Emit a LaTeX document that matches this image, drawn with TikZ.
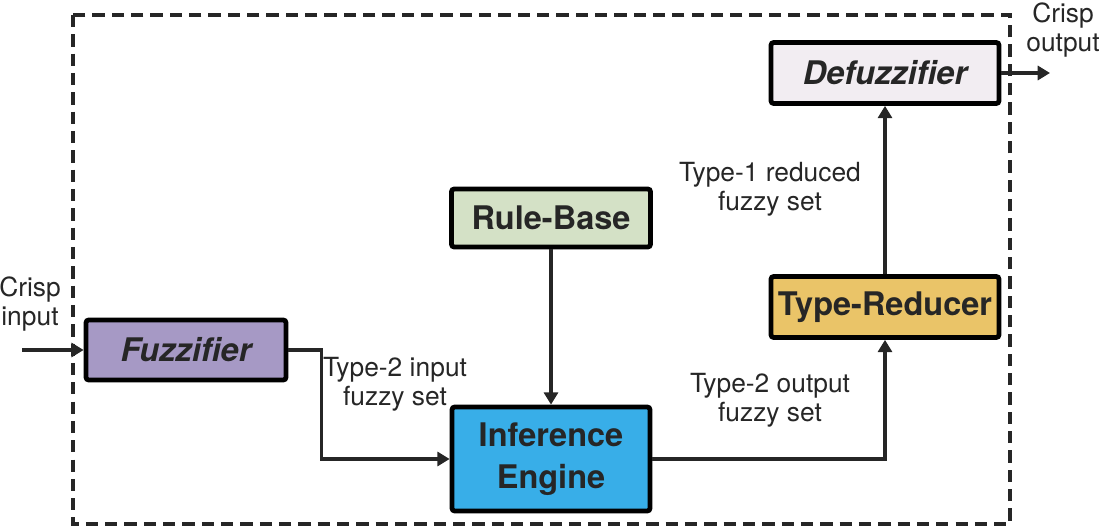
\documentclass[tikz,border=0pt]{standalone}
\usepackage{fontspec}
\setmainfont{TeX Gyre Heros}
\usepackage{xcolor}
\usetikzlibrary{arrows.meta, positioning, calc}

\definecolor{fuzzcol}{RGB}{166,153,197}
\definecolor{rulecol}{RGB}{212,225,198}
\definecolor{infcol}{RGB}{56,174,232}
\definecolor{redcol}{RGB}{234,196,104}
\definecolor{defcol}{RGB}{242,237,242}

\begin{document}
\begin{tikzpicture}[x=0.02cm,y=-0.02cm,
  block/.style={draw, line width=2.7pt, rounded corners=1.5pt, inner sep=0pt,
    font=\fontsize{18.5}{22}\selectfont\bfseries, text=black!85, align=center},
  lbl/.style={font=\fontsize{15}{16.5}\selectfont, align=center, text=black!85},
  conn/.style={line width=2pt, black!85, -{Triangle[length=7pt,width=8pt]}}]

\useasboundingbox (0,0) rectangle (1100,530);

% ------------------------
% Frame round the system
% ------------------------
\draw[line width=1.9pt, dash pattern=on 7pt off 4pt, black!85]
  (73,15) rectangle (1010,524);

% ------------------------
% Blocks
% ------------------------
\node[block, fill=fuzzcol, minimum width=4.0cm, minimum height=1.2cm]
  (fuzz) at (186,350) {\itshape Fuzzifier};
\node[block, fill=rulecol, minimum width=3.98cm, minimum height=1.16cm]
  (rule) at (551,218) {Rule-Base};
\node[block, fill=infcol, minimum width=3.96cm, minimum height=2.08cm]
  (inf) at (551,459) {Inference\\[2pt]Engine};
\node[block, fill=redcol, minimum width=4.56cm, minimum height=1.22cm]
  (red) at (885,307) {Type-Reducer};
\node[block, fill=defcol, minimum width=4.56cm, minimum height=1.22cm]
  (defuzz) at (885,73) {\itshape Defuzzifier};

% free ends
\coordinate (in) at (22,350);
\coordinate (out) at (1050,73);

% ------------------------
% Connectors
% ------------------------
\draw[conn] (in) -- (fuzz.west);
\draw[conn] (fuzz.east) -- ++(33,0) |- (inf.west);
\draw[conn] (rule.south) -- (inf.north);
\draw[conn] (inf.east) -| (red.south);
\draw[conn] (red.north) -- (defuzz.south);
\draw[conn] (defuzz.east) -- (out);

% ------------------------
% Labels
% ------------------------
\node[lbl] (lin) at (30,304) {Crisp\\input};
\node[lbl] (lout) at (1063,30) {Crisp\\output};
\node[lbl] (l2in) at (395,384) {Type-2 input\\fuzzy set};
\node[lbl] (l1red) at (770,189) {Type-1 reduced\\fuzzy set};
\node[lbl] (l2out) at (770,400) {Type-2 output\\fuzzy set};

\end{tikzpicture}
\end{document}
